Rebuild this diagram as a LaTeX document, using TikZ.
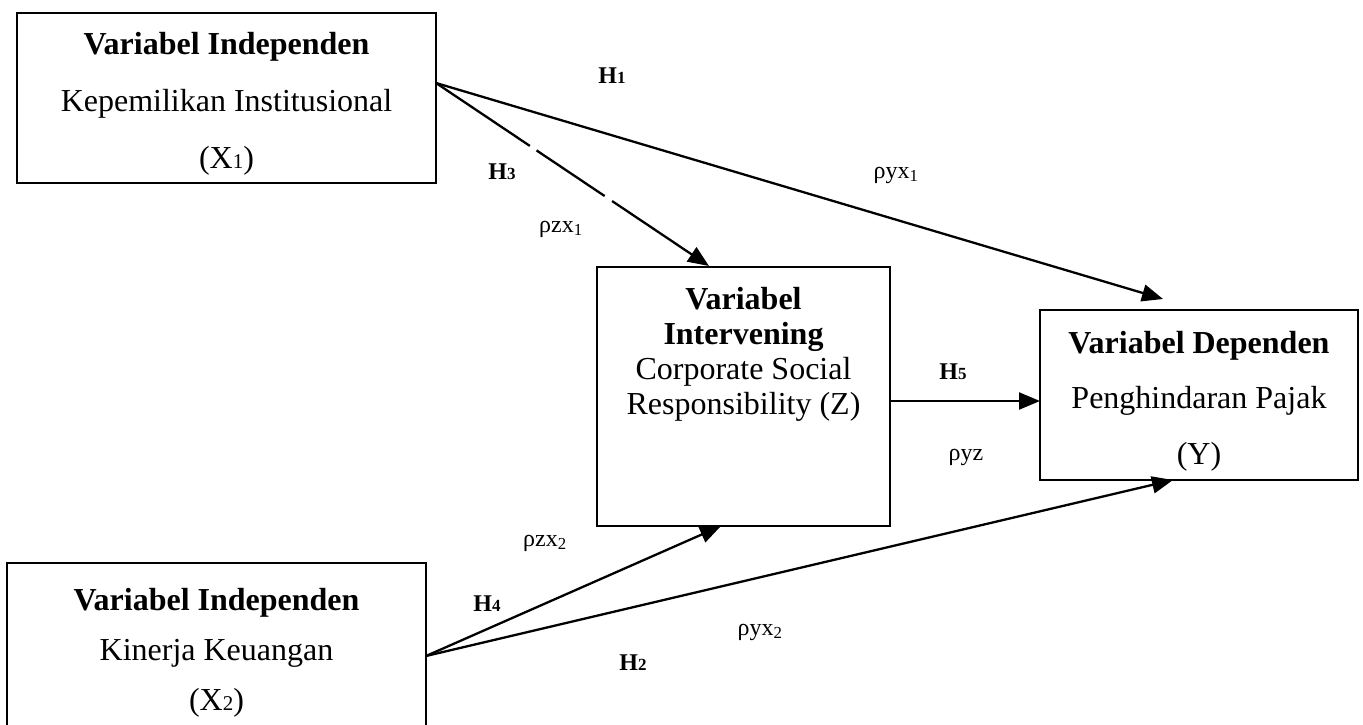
\documentclass[tikz,border=0pt]{standalone}
\usepackage{fontspec}
\setmainfont{Liberation Serif}
\usetikzlibrary{arrows.meta}
\newcommand\bsub[1]{{\fontsize{21}{21}\selectfont #1}}
\newcommand\lsub[1]{{\fontsize{17}{17}\selectfont #1}}
\begin{document}
\begin{tikzpicture}[x=1pt,y=-1pt,
  box/.style={draw, line width=1.5pt, inner sep=0pt, outer sep=0pt, align=center},
  conn/.style={line width=2.3pt, -{Triangle[length=21pt,width=17pt]}},
  lab/.style={inner sep=0pt, font=\fontsize{24}{28}\selectfont},
  ]
\useasboundingbox[fill=white] (0,0) rectangle (1363,725);
% boxes
\node[box, minimum width=419pt, minimum height=170pt, font=\fontsize{32}{57}\selectfont] (x1) at (226.5,98)
  {\rule{0pt}{34pt}\textbf{Variabel Independen}\\Kepemilikan Institusional\\(X\bsub{1})};
\node[box, minimum width=419pt, minimum height=174pt, font=\fontsize{32}{50}\selectfont] (x2) at (216.5,650)
  {\rule{0pt}{28pt}\textbf{Variabel Independen}\\Kinerja Keuangan\\(X\bsub{2})};
\node[box, minimum width=318pt, minimum height=170pt, font=\fontsize{32}{55.5}\selectfont] (y) at (1199,395)
  {\rule{0pt}{34pt}\textbf{Variabel Dependen}\\Penghindaran Pajak\\(Y)};
\node[box, minimum width=293pt, minimum height=259pt] (z) at (743.5,396.5) {};
\node[inner sep=0pt, align=center, font=\fontsize{32}{35}\selectfont] (ztext) at (743.5,354)
  {\textbf{Variabel}\\\textbf{Intervening}\\Corporate Social\\Responsibility (Z)};
% connector end points
\coordinate (x1o) at (436,83);
\coordinate (x2o) at (426,656);
\coordinate (zin1) at (709,266);
\coordinate (zin2) at (721,526);
\coordinate (yin1) at (1163,299);
\coordinate (yin2) at (1173,480);
\coordinate (zout) at (890,401);
\coordinate (yin5) at (1040,401);
% connectors
\draw[conn] (x1o) -- (yin1);
\draw[conn, dash pattern=on 113pt off 8pt on 82pt off 9pt on 400pt] (x1o) -- (zin1);
\draw[conn] (zout) -- (yin5);
\draw[conn] (x2o) -- (zin2);
\draw[conn] (x2o) -- (yin2);
% labels
\node[lab] (h1) at (612,76) {\textbf{H\lsub{1}}};
\node[lab] (h3) at (502,172) {\textbf{H\lsub{3}}};
\node[lab] (rzx1) at (561,229) {ρzx\textsubscript{1}};
\node[lab] (ryx1) at (896,175) {ρyx\textsubscript{1}};
\node[lab] (h5) at (953,372) {\textbf{H\lsub{5}}};
\node[lab] (ryz) at (966,457) {ρyz};
\node[lab] (rzx2) at (545,543) {ρzx\textsubscript{2}};
\node[lab] (h4) at (487,604) {\textbf{H\lsub{4}}};
\node[lab] (ryx2) at (760,632) {ρyx\textsubscript{2}};
\node[lab] (h2) at (633,663) {\textbf{H\lsub{2}}};
\end{tikzpicture}
\end{document}
